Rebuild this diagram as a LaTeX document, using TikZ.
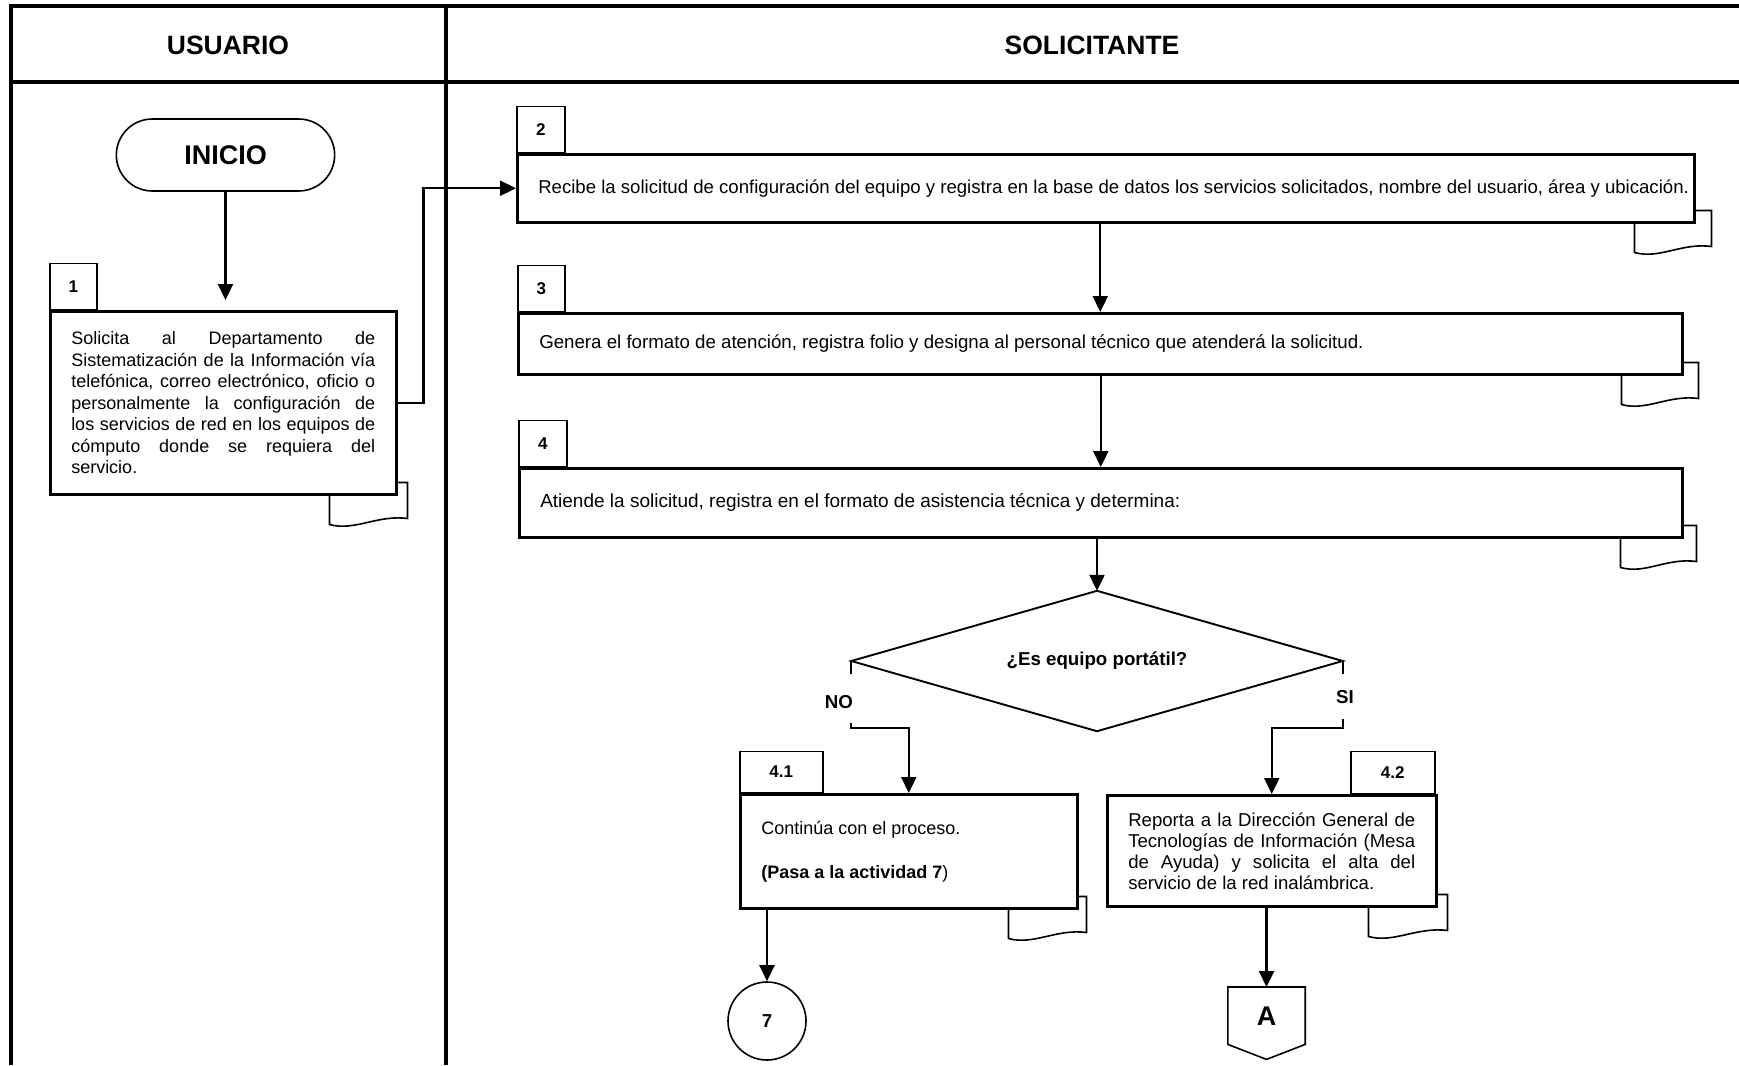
\documentclass[tikz,border=0pt]{standalone}
\usepackage{fontspec}
\setmainfont{Liberation Sans}
\usetikzlibrary{arrows.meta,shapes.geometric,shapes.misc,calc}
\newcommand{\jline}[1]{\makebox[\linewidth][s]{#1}}
\newcommand{\docfold}[3]{%
  \begin{scope}[shift={(#1.south east)}]
    \draw[foldst] (0,-13) -- (#2,-13) -- (#2,23) .. controls ({#2-30},19) and ({#2-#3+25},36) .. ({#2-#3},29) -- ({#2-#3},0);
  \end{scope}}
\begin{document}
\begin{tikzpicture}[x=1pt,y=-1pt,
  lane/.style={line width=3.5pt},
  procbox/.style={draw, line width=2.5pt, fill=white, inner xsep=21pt, inner ysep=0pt, font=\fontsize{18}{21.5}\selectfont},
  tabbox/.style={draw, line width=1.5pt, fill=white, inner sep=0pt, font=\bfseries\fontsize{17}{19}\selectfont},
  foldst/.style={line width=1.6pt},
  flow/.style={line width=2.3pt, -{Triangle[length=16pt,width=15pt]}},
  plain/.style={line width=2.3pt},
  lbl/.style={font=\bfseries\fontsize{18.7}{21}\selectfont},
  hdr/.style={font=\bfseries\fontsize{26.5}{30}\selectfont},
]
\useasboundingbox (0,0) rectangle (1739,1065);

% swimlanes
\draw[lane] (1739,6) -- (11,6) -- (11,1065);
\draw[lane] (11,82) -- (1739,82);
\draw[lane] (446,6) -- (446,1065);
\node[hdr] (hU) at (228,45) {USUARIO};
\node[hdr] (hS) at (1092,45) {SOLICITANTE};

% start
\node[draw, rounded rectangle, line width=1.6pt, minimum width=225pt, minimum height=72pt,
      font=\bfseries\fontsize{27}{30}\selectfont] (ini) at (225.5,155) {INICIO};

% activity 1
\node[tabbox, minimum width=47pt, minimum height=46pt, anchor=south west] (t1) at (49,310) {1};
\node[procbox, minimum width=346pt, minimum height=183pt, anchor=north west] (b1) at (49,310)
  {\parbox{304pt}{\jline{Solicita al Departamento de}\\
   \jline{Sistematización de la Información vía}\\
   \jline{telefónica, correo electrónico, oficio o}\\
   \jline{personalmente la configuración de}\\
   \jline{los servicios de red en los equipos de}\\
   \jline{cómputo donde se requiera del}\\
   servicio.}};

% activity 2
\node[tabbox, minimum width=48pt, minimum height=46pt, anchor=south west] (t2) at (516,153) {2};
\node[procbox, minimum width=1177pt, minimum height=68pt, anchor=north west, font=\fontsize{18.6}{21.5}\selectfont] (b2) at (516,153)
  {\makebox[1135pt][l]{Recibe la solicitud de configuración del equipo y registra en la base de datos los servicios solicitados, nombre del usuario, área y ubicación.}};

% activity 3
\node[tabbox, minimum width=47pt, minimum height=46pt, anchor=south west] (t3) at (517,312) {3};
\node[procbox, minimum width=1164pt, minimum height=61pt, anchor=north west, font=\fontsize{18.7}{21.5}\selectfont] (b3) at (517,312)
  {\makebox[1122pt][l]{Genera el formato de atención, registra folio y designa al personal técnico que atenderá la solicitud.}};

% activity 4
\node[tabbox, minimum width=48pt, minimum height=46pt, anchor=south west] (t4) at (518,467) {4};
\node[procbox, minimum width=1163pt, minimum height=69pt, anchor=north west, font=\fontsize{19}{21.5}\selectfont] (b4) at (518,467)
  {\makebox[1121pt][l]{Atiende la solicitud, registra en el formato de asistencia técnica y determina:}};

% decision
\node[minimum width=491pt, minimum height=140pt, inner sep=0pt, lbl] (d) at (1097,661) {¿Es equipo portátil?};
\draw[line width=1.9pt] (d.north) -- (d.east) -- (d.south) -- (d.west) -- cycle;
\node[lbl] (no) at (839,702) {NO};
\node[lbl] (si) at (1345,697) {SI};

% activity 4.1
\node[tabbox, minimum width=83pt, minimum height=41pt, anchor=south west] (t41) at (739,793) {4.1};
\node[procbox, minimum width=337pt, minimum height=114pt, anchor=north west] (b41) at (739,793)
  {\parbox{295pt}{Continúa con el proceso.\\[22.5pt]\textbf{(Pasa a la actividad 7})}};

% activity 4.2
\node[tabbox, minimum width=84pt, minimum height=42pt, anchor=south west] (t42) at (1350,794) {4.2};
\node[procbox, minimum width=329pt, minimum height=111pt, anchor=north west, font=\fontsize{18.6}{21}\selectfont] (b42) at (1106,794)
  {\parbox{287pt}{\jline{Reporta a la Dirección General de}\\
   \jline{Tecnologías de Información (Mesa}\\
   \jline{de Ayuda) y solicita el alta del}\\
   servicio de la red inalámbrica.}};

% connectors
\node[draw, circle, line width=1.6pt, minimum size=78pt, inner sep=0pt, lbl] (c7) at (767,1021) {7};
\node[minimum width=77pt, minimum height=57pt, inner sep=0pt, anchor=north,
      font=\bfseries\fontsize{27}{30}\selectfont] (offA) at (1266.5,987) {A};
\draw[line width=1.6pt] (offA.north west) -- (offA.north east) -- (offA.south east)
   -- ([yshift=-15pt]offA.south) -- (offA.south west) -- cycle;

% document folds
\docfold{b1}{10}{78}
\docfold{b2}{16}{77}
\docfold{b3}{15}{77}
\docfold{b4}{13}{76}
\docfold{b41}{8}{78}
\docfold{b42}{10}{79}

% flow lines
\draw[flow, shorten >=10pt] (ini.south) -- (ini.south |- b1.north);
\draw[flow] (b1.east) -- ++(26,0) |- (b2.west);
\draw[flow] (b3.north |- b2.south) -- (b3.north);
\draw[flow] (b4.north |- b3.south) -- (b4.north);
\draw[flow] (d.north |- b4.south) -- (d.north);
\draw[plain] (d.west) -- ++(0,13);
\draw[flow] ($(d.west)+(0,62)$) -- ++(0,5) -| (b41.north);
\draw[plain] (d.east) -- ++(0,13);
\draw[flow] ($(d.east)+(0,58)$) -- ++(0,9) -| (b42.north);
\draw[flow] (c7.north |- b41.south) -- (c7.north);
\draw[flow] (offA.north |- b42.south) -- (offA.north);
\end{tikzpicture}
\end{document}
